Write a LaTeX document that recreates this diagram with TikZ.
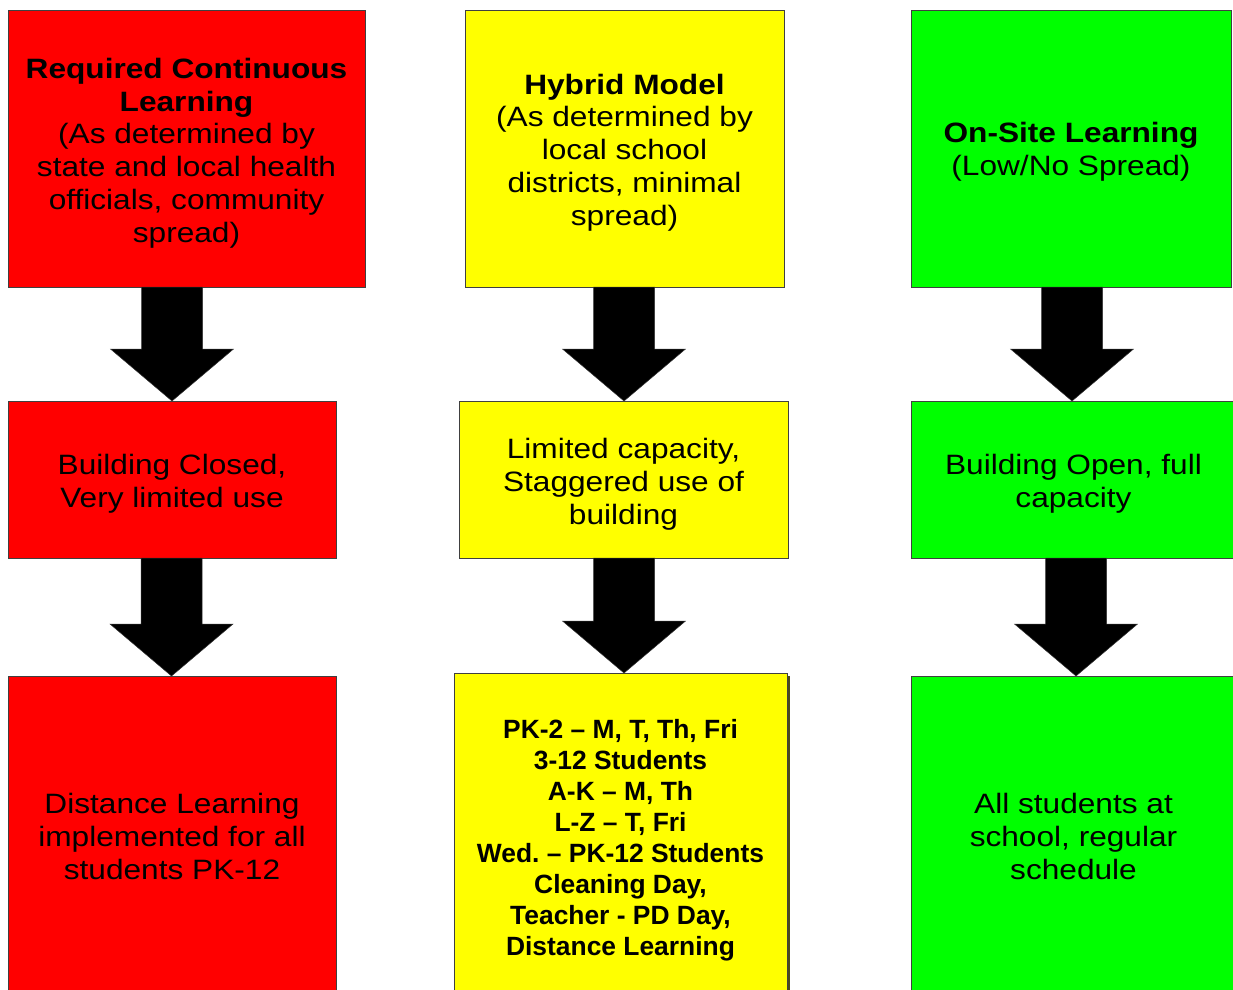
\documentclass[tikz,border=0pt]{standalone}
\usepackage{fontspec}
\setmainfont{Liberation Sans}
\newfontfamily\widefont[FakeStretch=1.13]{Liberation Sans}
\usetikzlibrary{calc,backgrounds}
\frenchspacing
\definecolor{cred}{HTML}{FF0000}
\definecolor{cyel}{HTML}{FFFF00}
\definecolor{cgrn}{HTML}{00FF00}
\definecolor{edge}{HTML}{404040}
\definecolor{shadowc}{HTML}{4A4A1A}
\tikzset{
  box/.style={rectangle, draw=edge, line width=0.9pt, inner sep=0pt, outer sep=0pt},
  txt/.style={align=center, inner sep=0pt, font=\widefont\fontsize{28}{32.8}\selectfont},
  boldtxt/.style={align=center, inner sep=0pt, font=\bfseries\fontsize{26.4}{31}\selectfont},
  arrowfill/.style={fill=black, draw=black!80, line width=0.5pt}
}
\newcommand\blockarrow[3]{%
  \filldraw[arrowfill] let \p1=(#1.south), \p2=([xshift=#3]#2.north) in
    (\x2,\y2) -- (\x2+61.5pt,\y2+52pt) -- (\x2+30.5pt,\y2+52pt) -- (\x2+30.5pt,\y1)
    -- (\x2-30.5pt,\y1) -- (\x2-30.5pt,\y2+52pt) -- (\x2-61.5pt,\y2+52pt) -- cycle;}
\begin{document}
\begin{tikzpicture}[x=1pt,y=1pt]
\useasboundingbox (0,0) rectangle (1233,-989);
\clip (0,0) rectangle (1233,-989);
% top row
\node[box, fill=cred, minimum width=357pt, minimum height=277pt,
  label={[txt, yshift=-4.5pt]center:\textbf{Required Continuous}\\\textbf{Learning}\\(As determined by\\state and local health\\officials, community\\spread)}] (r1) at (186.5,-148.5) {};
\node[box, fill=cyel, minimum width=319pt, minimum height=277pt,
  label={[txt, yshift=-4pt]center:\textbf{Hybrid Model}\\(As determined by\\local school\\districts, minimal\\spread)}] (y1) at (624.5,-148.5) {};
\node[box, fill=cgrn, minimum width=320pt, minimum height=277pt,
  label={[txt, yshift=-3.5pt]center:\textbf{On-Site Learning}\\(Low/No Spread)}] (g1) at (1071,-148.5) {};
% middle row
\node[box, fill=cred, minimum width=328pt, minimum height=157pt,
  label={[txt, yshift=-4pt]center:Building Closed,\\Very limited use}] (r2) at (172,-479.5) {};
\node[box, fill=cyel, minimum width=329pt, minimum height=157pt,
  label={[txt, yshift=-4.5pt]center:Limited capacity,\\Staggered use of\\building}] (y2) at (623.5,-479.5) {};
\node[box, fill=cgrn, minimum width=325pt, minimum height=157pt,
  label={[txt, yshift=-4pt]center:Building Open, full\\capacity}] (g2) at (1073.5,-479.5) {};
% bottom row
\node[box, fill=cred, minimum width=328pt, minimum height=320pt,
  label={[txt, yshift=-0.5pt]center:Distance Learning\\implemented for all\\students PK-12}] (r3) at (172,-836) {};
\node[box, fill=cyel, minimum width=333pt, minimum height=327pt,
  label={[boldtxt, yshift=-4pt]center:PK-2 – M, T, Th, Fri\\3-12 Students\\A-K – M, Th\\L-Z – T, Fri\\Wed.\ – PK-12 Students\\Cleaning Day,\\Teacher - PD Day,\\Distance Learning}] (y3) at (620.5,-836.5) {};
\node[box, fill=cgrn, minimum width=325pt, minimum height=320pt,
  label={[txt, yshift=-0.5pt]center:All students at\\school, regular\\schedule}] (g3) at (1073.5,-836) {};
\begin{scope}[on background layer]
  \fill[shadowc] ([shift={(2.5pt,-2.5pt)}]y3.north west) rectangle ([shift={(2.5pt,-2.5pt)}]y3.south east);
\end{scope}
% arrows
\blockarrow{r1}{r2}{0pt}
\blockarrow{r2}{r3}{-0.5pt}
\blockarrow{y1}{y2}{0.5pt}
\blockarrow{y2}{y3}{3.5pt}
\blockarrow{g1}{g2}{-1.5pt}
\blockarrow{g2}{g3}{2.5pt}
\end{tikzpicture}
\end{document}
